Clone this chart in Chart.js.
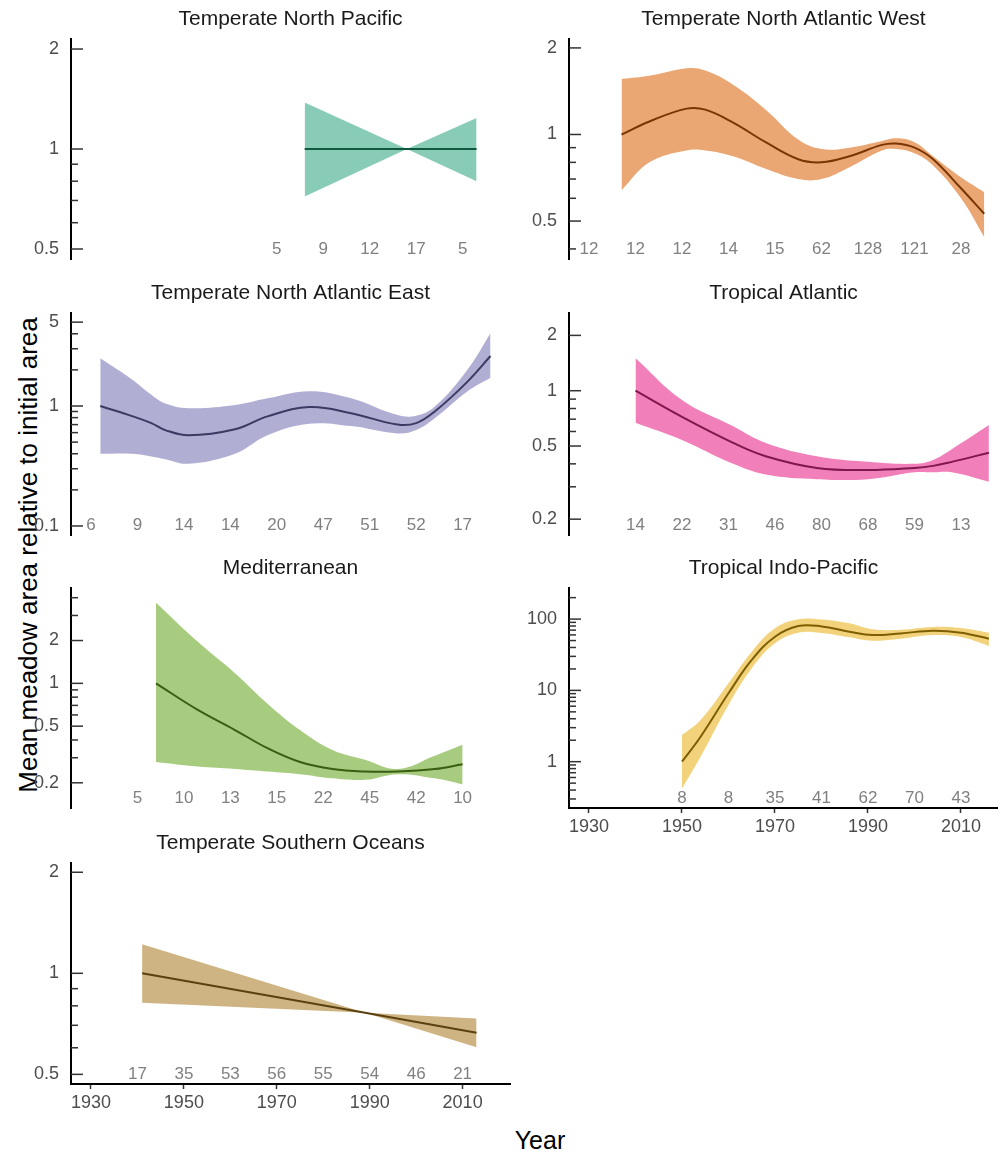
<!DOCTYPE html>
<html>
<head>
<meta charset="utf-8">
<title>Seagrass meadow area by bioregion</title>
<script src="https://cdn.jsdelivr.net/npm/chart.js@4.4.1/dist/chart.umd.min.js"></script>
<style>
  html, body { margin: 0; padding: 0; background: #fff; }
  body { position: relative; width: 998px; height: 1152px; overflow: hidden;
         font-family: "Liberation Sans", Arial, sans-serif; }
  canvas { position: absolute; }
  .axis-title { position: absolute; color: #000; white-space: nowrap; transform: translate(-50%, -50%); }
  #ytitle { left: 28px; top: 555px; font-size: 26px; transform: translate(-50%, -50%) rotate(-90deg); }
  #xtitle { left: 540px; top: 1140px; font-size: 25px; }
</style>
</head>
<body>
<div id="ytitle" class="axis-title">Mean meadow area relative to initial area</div>
<div id="xtitle" class="axis-title">Year</div>
<script>
// year ticks on the two bottom panels
const yearTicks = [1930, 1950, 1970, 1990, 2010];

// y tick sets (labelled / unlabelled)
const halfToTwoMajor = [0.5, 1, 2];
const halfToTwoMinor = [0.6, 0.7, 0.8, 0.9];

// Temperate North Pacific
const tnpYears = [1976, 1998, 2013];
const tnpMean  = [1, 1, 1];
const tnpUpper = [1.38, 1, 1.24];
const tnpLower = [0.72, 1, 0.80];
const tnpCountYears = [1970, 1980, 1990, 2000, 2010];
const tnpCounts = [5, 9, 12, 17, 5];

// Temperate North Atlantic West
const tnawYears = [1937, 1943, 1951, 1955, 1961, 1968, 1975, 1980, 1986, 1993, 1996, 2000, 2004, 2010, 2015];
const tnawMean  = [1.00, 1.11, 1.23, 1.22, 1.10, 0.94, 0.82, 0.80, 0.84, 0.92, 0.93, 0.90, 0.82, 0.65, 0.53];
const tnawUpper = [1.56, 1.60, 1.70, 1.67, 1.49, 1.22, 0.96, 0.89, 0.90, 0.95, 0.97, 0.94, 0.84, 0.71, 0.63];
const tnawLower = [0.64, 0.80, 0.88, 0.88, 0.84, 0.76, 0.70, 0.70, 0.77, 0.88, 0.89, 0.86, 0.78, 0.60, 0.44];
const tnawCountYears = [1930, 1940, 1950, 1960, 1970, 1980, 1990, 2000, 2010];
const tnawCounts = [12, 12, 12, 14, 15, 62, 128, 121, 28];
const tnawMajor = [0.5, 1, 2];
const tnawMinor = [0.4, 0.6, 0.7, 0.8, 0.9];

// Temperate North Atlantic East
const tnaeYears = [1932, 1939, 1943, 1946, 1951, 1961, 1968, 1977, 1986, 1996, 2000, 2004, 2011, 2016];
const tnaeMean  = [1.00, 0.82, 0.72, 0.63, 0.57, 0.64, 0.82, 0.98, 0.87, 0.70, 0.72, 0.90, 1.59, 2.61];
const tnaeUpper = [2.50, 1.65, 1.24, 1.05, 0.96, 1.02, 1.16, 1.33, 1.16, 0.84, 0.83, 0.99, 2.00, 4.04];
const tnaeLower = [0.40, 0.40, 0.38, 0.36, 0.33, 0.40, 0.57, 0.71, 0.68, 0.59, 0.63, 0.79, 1.32, 1.72];
const tnaeCountYears = [1930, 1940, 1950, 1960, 1970, 1980, 1990, 2000, 2010];
const tnaeCounts = [6, 9, 14, 14, 20, 47, 51, 52, 17];
const tnaeMajor = [0.1, 1, 5];
const tnaeMinor = [0.2, 0.3, 0.4, 0.5, 0.6, 0.7, 0.8, 0.9, 2, 3, 4];

// Tropical Atlantic
const taYears = [1940, 1950, 1961, 1968, 1979, 1990, 2000, 2004, 2008, 2016];
const taMean  = [1.00, 0.72, 0.52, 0.44, 0.38, 0.37, 0.38, 0.39, 0.41, 0.46];
const taUpper = [1.50, 0.89, 0.64, 0.52, 0.44, 0.41, 0.40, 0.42, 0.48, 0.65];
const taLower = [0.67, 0.54, 0.40, 0.35, 0.33, 0.33, 0.36, 0.36, 0.36, 0.32];
const taCountYears = [1940, 1950, 1960, 1970, 1980, 1990, 2000, 2010];
const taCounts = [14, 22, 31, 46, 80, 68, 59, 13];
const taMajor = [0.2, 0.5, 1, 2];
const taMinor = [0.3, 0.4, 0.6, 0.7, 0.8, 0.9];

// Mediterranean
const medYears = [1944, 1953, 1961, 1968, 1975, 1982, 1989, 1996, 2004, 2010];
const medMean  = [1.00, 0.65, 0.47, 0.35, 0.28, 0.25, 0.24, 0.24, 0.25, 0.27];
const medUpper = [3.69, 1.96, 1.18, 0.72, 0.47, 0.34, 0.29, 0.25, 0.31, 0.37];
const medLower = [0.28, 0.26, 0.25, 0.24, 0.23, 0.215, 0.21, 0.23, 0.215, 0.195];
const medCountYears = [1940, 1950, 1960, 1970, 1980, 1990, 2000, 2010];
const medCounts = [5, 10, 13, 15, 22, 45, 42, 10];
const medMajor = [0.2, 0.5, 1, 2];
const medMinor = [0.3, 0.4, 0.6, 0.7, 0.8, 0.9, 3, 4];

// Tropical Indo-Pacific
const tipYears = [1950, 1954, 1960, 1965, 1970, 1975, 1980, 1986, 1991, 1997, 2004, 2010, 2016];
const tipMean  = [1.0, 2.24, 9.1, 26.7, 56.6, 80, 79, 66.6, 59.8, 63, 68.7, 64.4, 53.1];
const tipUpper = [2.37, 3.85, 12.6, 34.9, 74.3, 99.4, 99, 87.6, 72, 71, 77.7, 75, 64.4];
const tipLower = [0.42, 1.17, 6.24, 20.4, 45.7, 64.5, 64, 55.6, 49.8, 53, 59.8, 56, 42];
const tipCountYears = [1950, 1960, 1970, 1980, 1990, 2000, 2010];
const tipCounts = [8, 8, 35, 41, 62, 70, 43];
const tipMajor = [1, 10, 100];
const tipMinor = [0.3, 0.4, 0.5, 0.6, 0.7, 0.8, 0.9, 2, 3, 4, 5, 6, 7, 8, 9,
                  20, 30, 40, 50, 60, 70, 80, 90, 200];

// Temperate Southern Oceans
const tsoYears = [1941, 1989, 2013];
const tsoMean  = [1.0, 0.763, 0.665];
const tsoUpper = [1.22, 0.763, 0.734];
const tsoLower = [0.817, 0.763, 0.602];
const tsoCountYears = [1940, 1950, 1960, 1970, 1980, 1990, 2000, 2010];
const tsoCounts = [17, 35, 53, 56, 55, 54, 46, 21];

Chart.defaults.font.family = "'Liberation Sans', Arial, sans-serif";

const toPoints = (xs, ys) => xs.map((x, i) => ({ x: x, y: ys[i] }));

// tick marks drawn inward from the y axis line, long for labelled values
const logTicks = {
  id: 'logTicks',
  afterDraw(chart, args, opts) {
    const ctx = chart.ctx, y = chart.scales.y, x0 = chart.chartArea.left;
    ctx.save();
    ctx.strokeStyle = '#333';
    ctx.lineWidth = 1.5;
    [[opts.major, 12], [opts.minor, 7]].forEach(([vals, len]) => {
      vals.forEach(v => {
        const py = y.getPixelForValue(v);
        ctx.beginPath();
        ctx.moveTo(x0, py);
        ctx.lineTo(x0 + len, py);
        ctx.stroke();
      });
    });
    ctx.restore();
  }
};

// number of sites per decade along the bottom of a panel
const countLabels = {
  id: 'countLabels',
  afterDraw(chart, args, opts) {
    const ctx = chart.ctx, x = chart.scales.x;
    ctx.save();
    ctx.font = "17px 'Liberation Sans', Arial, sans-serif";
    ctx.fillStyle = '#808080';
    ctx.textAlign = 'center';
    ctx.textBaseline = 'middle';
    opts.years.forEach((yr, i) => {
      ctx.fillText(String(opts.values[i]), x.getPixelForValue(yr), chart.chartArea.bottom - 10);
    });
    ctx.restore();
  }
};

const panels = [
  { title: 'Temperate North Pacific', col: 0, top: 39, h: 220, yMin: 0.4665, yMax: 2.144,
    years: tnpYears, mean: tnpMean, upper: tnpUpper, lower: tnpLower, smooth: false,
    countYears: tnpCountYears, counts: tnpCounts, major: halfToTwoMajor, minor: halfToTwoMinor,
    band: 'rgba(27,158,119,0.52)', line: '#10593f' },
  { title: 'Temperate North Atlantic West', col: 1, top: 39, h: 220, yMin: 0.369, yMax: 2.148,
    years: tnawYears, mean: tnawMean, upper: tnawUpper, lower: tnawLower, smooth: true,
    countYears: tnawCountYears, counts: tnawCounts, major: tnawMajor, minor: tnawMinor,
    band: 'rgba(217,95,2,0.55)', line: '#7a3502' },
  { title: 'Temperate North Atlantic East', col: 0, top: 313, h: 222, yMin: 0.0841, yMax: 5.96,
    years: tnaeYears, mean: tnaeMean, upper: tnaeUpper, lower: tnaeLower, smooth: true,
    countYears: tnaeCountYears, counts: tnaeCounts, major: tnaeMajor, minor: tnaeMinor,
    band: 'rgba(117,112,179,0.57)', line: '#3c3962' },
  { title: 'Tropical Atlantic', col: 1, top: 313, h: 222, yMin: 0.164, yMax: 2.648,
    years: taYears, mean: taMean, upper: taUpper, lower: taLower, smooth: true,
    countYears: taCountYears, counts: taCounts, major: taMajor, minor: taMinor,
    band: 'rgba(231,41,138,0.6)', line: '#80174d' },
  { title: 'Mediterranean', col: 0, top: 588, h: 220, yMin: 0.133, yMax: 4.68,
    years: medYears, mean: medMean, upper: medUpper, lower: medLower, smooth: true,
    countYears: medCountYears, counts: medCounts, major: medMajor, minor: medMinor,
    band: 'rgba(102,166,30,0.57)', line: '#3a5e11' },
  { title: 'Tropical Indo-Pacific', col: 1, top: 588, h: 220, yMin: 0.224, yMax: 273, xAxis: true,
    years: tipYears, mean: tipMean, upper: tipUpper, lower: tipLower, smooth: true,
    countYears: tipCountYears, counts: tipCounts, major: tipMajor, minor: tipMinor,
    band: 'rgba(230,171,2,0.52)', line: '#7f5e01' },
  { title: 'Temperate Southern Oceans', col: 0, top: 863, h: 221, yMin: 0.468, yMax: 2.131, xAxis: true,
    years: tsoYears, mean: tsoMean, upper: tsoUpper, lower: tsoLower, smooth: false,
    countYears: tsoCountYears, counts: tsoCounts, major: halfToTwoMajor, minor: halfToTwoMinor,
    band: 'rgba(166,118,29,0.55)', line: '#5c4110' }
];

const TITLE_SPACE = 39;
const BOTTOM_SPACE = 30;

panels.forEach(p => {
  const left = p.col ? 500 : 0;
  const width = p.col ? 498 : 520;
  const height = TITLE_SPACE + p.h + BOTTOM_SPACE;
  const canvas = document.createElement('canvas');
  canvas.width = width;
  canvas.height = height;
  canvas.style.left = left + 'px';
  canvas.style.top = (p.top - TITLE_SPACE) + 'px';
  canvas.style.width = width + 'px';
  canvas.style.height = height + 'px';
  document.body.appendChild(canvas);

  // smooth fits use a cardinal spline, straight-line fits none
  const tension = p.smooth ? 0.4 : 0;

  new Chart(canvas, {
    type: 'line',
    data: {
      datasets: [
        { data: toPoints(p.years, p.mean), borderColor: p.line, borderWidth: 2,
          pointRadius: 0, fill: false, tension: tension },
        { data: toPoints(p.years, p.upper), borderColor: 'transparent', borderWidth: 0,
          backgroundColor: p.band, pointRadius: 0, fill: '+1', tension: tension },
        { data: toPoints(p.years, p.lower), borderColor: 'transparent', borderWidth: 0,
          pointRadius: 0, fill: false, tension: tension }
      ]
    },
    options: {
      responsive: false,
      animation: false,
      devicePixelRatio: 1,
      events: [],
      layout: { padding: { left: 0, top: 0, right: p.col ? 0 : 10, bottom: p.xAxis ? 0 : BOTTOM_SPACE } },
      plugins: {
        legend: { display: false },
        tooltip: { enabled: false },
        title: {
          display: true, text: p.title, fullSize: false, color: '#1a1a1a',
          font: { size: 21, weight: 'normal' }, padding: { top: 6.4, bottom: 7.4 }
        },
        logTicks: { major: p.major, minor: p.minor },
        countLabels: { years: p.countYears, values: p.counts }
      },
      scales: {
        x: {
          type: 'linear',
          display: !!p.xAxis,
          min: 1925.7,
          max: p.col ? 2017.96 : 2020.2,
          bounds: 'data',
          afterBuildTicks: s => { s.ticks = yearTicks.map(v => ({ value: v })); },
          afterFit: s => { if (p.xAxis) s.height = BOTTOM_SPACE; },
          ticks: { autoSkip: false, maxRotation: 0, padding: 3.5, color: '#4d4d4d',
                   font: { size: 18 }, callback: v => String(v) },
          grid: { drawOnChartArea: false, drawTicks: true, tickLength: 5, tickColor: '#333', tickWidth: 1.5 },
          border: { display: true, color: '#000', width: 2 }
        },
        y: {
          type: 'logarithmic',
          position: 'left',
          min: p.yMin,
          max: p.yMax,
          bounds: 'data',
          afterBuildTicks: s => { s.ticks = p.major.map(v => ({ value: v })); },
          afterFit: s => { s.width = p.col ? 69 : 71; },
          ticks: { autoSkip: false, padding: 12, color: '#4d4d4d', font: { size: 18 },
                   callback: v => String(v) },
          grid: { display: false, drawTicks: false },
          border: { display: true, color: '#000', width: 2 }
        }
      }
    },
    plugins: [logTicks, countLabels]
  });
});
</script>
</body>
</html>
